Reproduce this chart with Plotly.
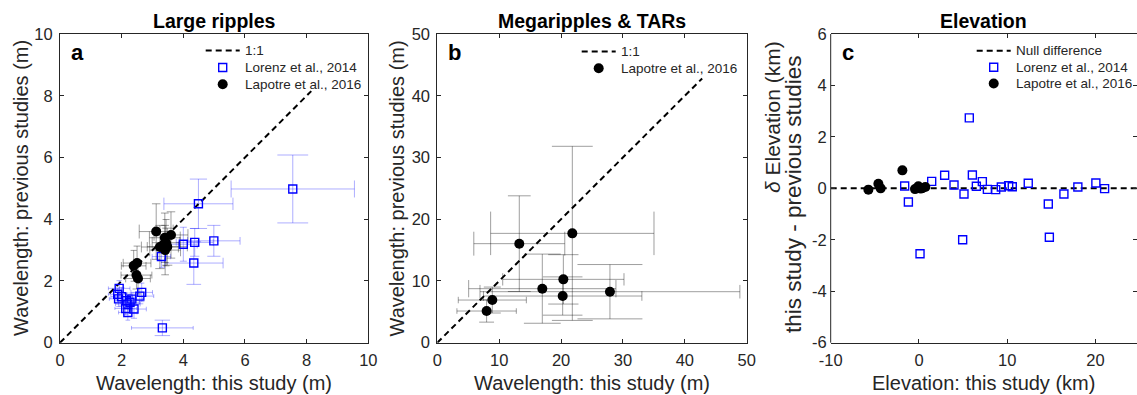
import plotly.graph_objects as go

# ---------------- data ----------------
# Panel a: large ripples, wavelength (m)
lor_a_x = [7.55, 4.49, 4.99, 4.37, 4.00, 4.34, 3.29, 3.32, 1.92, 1.87, 1.90, 2.00,
           2.15, 2.20, 2.13, 2.20, 2.40, 2.33, 2.59, 2.65, 2.27]
lor_a_y = [4.98, 4.50, 3.30, 3.25, 3.19, 2.58, 2.79, 0.48, 1.76, 1.57, 1.42, 1.49,
           1.36, 1.25, 1.11, 0.98, 1.09, 1.41, 1.51, 1.63, 1.31]
lor_a_xerr = [2.00, 1.12, 0.85, 0.60, 0.45, 0.95, 0.30, 1.00, 0.35, 0.30, 0.30, 0.35,
              0.30, 0.40, 0.35, 0.30, 0.40, 0.35, 0.45, 0.35, 0.30]
lor_a_yerr = [1.10, 0.80, 0.50, 0.45, 0.55, 0.69, 0.35, 0.25, 0.25, 0.20, 0.25, 0.30,
              0.25, 0.30, 0.20, 0.25, 0.30, 0.20, 0.25, 0.30, 0.25]

lap_a_x = [3.12, 3.24, 3.40, 3.44, 3.60, 3.41, 3.48, 2.39, 2.50, 2.48, 2.53]
lap_a_y = [3.60, 3.10, 3.40, 3.24, 3.49, 3.00, 3.11, 2.49, 2.58, 2.19, 2.08]
lap_a_xerr = [0.55, 0.60, 0.50, 0.45, 0.55, 0.50, 0.65, 0.40, 0.45, 0.50, 0.40]
lap_a_yerr = [0.90, 0.70, 0.80, 0.75, 0.75, 0.80, 0.60, 0.50, 0.55, 0.45, 0.50]

# Panel b: megaripples & TARs, wavelength (m)
lap_b_x = [7.97, 8.89, 13.25, 21.82, 16.97, 20.37, 20.26, 27.90]
lap_b_y = [5.13, 6.91, 16.04, 17.71, 8.75, 10.26, 7.56, 8.26]
lap_b_xerr = [4.8, 5.5, 7.35, 13.2, 11.9, 9.8, 12.8, 21.0]
lap_b_yerr = [1.8, 2.1, 7.75, 14.1, 5.6, 4.0, 3.1, 4.4]

# Panel c: elevation (km) and elevation difference (km)
lor_c_x = [-1.62, -1.20, 0.12, 1.44, 2.91, 3.97, 5.10, 4.95, 5.70, 6.05, 6.50, 7.18,
           7.75, 8.69, 9.33, 10.16, 10.57, 12.38, 14.65, 14.77, 16.42, 18.00, 20.04, 21.03]
lor_c_y = [0.09, -0.53, -2.54, 0.27, 0.51, 0.13, -0.22, -2.00, 2.74, 0.52, 0.08, 0.26,
           -0.04, -0.05, 0.05, 0.10, 0.06, 0.20, -0.61, -1.90, -0.22, 0.05, 0.21, -0.01]
lap_c_x = [-5.73, -4.60, -4.34, -1.88, -0.45, -0.07, 0.38, 0.72, 0.20]
lap_c_y = [-0.05, 0.18, 0.00, 0.70, -0.03, 0.08, 0.01, 0.05, -0.01]

# reference lines (the 1:1 lines stop where the legend box begins)
one_to_one_a = [0, 8.15]
one_to_one_b = [0, 42.8]
null_x = [-10, 25]
null_y = [0, 0]

range_a = [0, 10]
range_b = [0, 50]
range_cx = [-10, 24.7]
range_cy = [-6, 6]

# tick labels for panel c (plain hyphen for negatives)
c_xticks = [-10, 0, 10, 20]
c_xlabels = ["-10", "0", "10", "20"]
c_yticks = [-6, -4, -2, 0, 2, 4, 6]
c_ylabels = ["-6", "-4", "-2", "0", "2", "4", "6"]

# ---------------- style ----------------
W, H = 1137, 395
FONT = "Liberation Sans, Arial, Helvetica, sans-serif"
AXC = "#262626"
BLUE = "#0000ff"
BLUE_ERR = "rgba(0,0,255,0.32)"
GRAY_ERR = "rgba(0,0,0,0.38)"
DASH = "6px,4px"

# axes boxes in pixels (left, right) and shared vertical extent
BOX_A = (60.0, 368.3)
BOX_B = (437.3, 746.7)
BOX_C = (830.7, 1137.0)
Y_BOT, Y_TOP = 342.7, 34.0
ydom = [(H - Y_BOT) / H, (H - Y_TOP) / H]
PY = Y_BOT - Y_TOP


def dom(box):
    return [box[0] / W, min(box[1] / W, 1.0)]


def px_per_unit(box, rng):
    return (box[1] - box[0]) / (rng[1] - rng[0])


fig = go.Figure()


def add_errorbars(xs, ys, exs, eys, color, box, rng, xa, ya):
    # caps span half of the perpendicular error, as in the original plotting routine
    sx = px_per_unit(box, rng)
    sy = PY / (rng[1] - rng[0])
    for x, y, ex, ey in zip(xs, ys, exs, eys):
        fig.add_trace(go.Scatter(
            x=[x], y=[y], mode="markers", xaxis=xa, yaxis=ya,
            marker=dict(size=2, opacity=0),
            error_x=dict(type="data", array=[ex], color=color, thickness=1,
                         width=ey / 4 * sy),
            error_y=dict(type="data", array=[ey], color=color, thickness=1,
                         width=ex / 4 * sx),
            showlegend=False, hoverinfo="skip"))


sq = dict(symbol="square-open", size=8, color=BLUE, line=dict(width=1.4, color=BLUE))
dot = dict(symbol="circle", size=10, color="black", line=dict(width=0))
dash_line = dict(color="black", width=2, dash=DASH)

# ---- panel a ----
add_errorbars(lor_a_x, lor_a_y, lor_a_xerr, lor_a_yerr, BLUE_ERR, BOX_A, range_a, "x", "y")
add_errorbars(lap_a_x, lap_a_y, lap_a_xerr, lap_a_yerr, GRAY_ERR, BOX_A, range_a, "x", "y")
fig.add_trace(go.Scatter(x=one_to_one_a, y=one_to_one_a, mode="lines", xaxis="x", yaxis="y",
                         line=dash_line, showlegend=False))
fig.add_trace(go.Scatter(x=lor_a_x, y=lor_a_y, mode="markers", xaxis="x", yaxis="y",
                         marker=sq, showlegend=False))
fig.add_trace(go.Scatter(x=lap_a_x, y=lap_a_y, mode="markers", xaxis="x", yaxis="y",
                         marker=dot, showlegend=False))

# ---- panel b ----
add_errorbars(lap_b_x, lap_b_y, lap_b_xerr, lap_b_yerr, GRAY_ERR, BOX_B, range_b, "x2", "y2")
fig.add_trace(go.Scatter(x=one_to_one_b, y=one_to_one_b, mode="lines", xaxis="x2", yaxis="y2",
                         line=dash_line, showlegend=False))
fig.add_trace(go.Scatter(x=lap_b_x, y=lap_b_y, mode="markers", xaxis="x2", yaxis="y2",
                         marker=dot, showlegend=False))

# ---- panel c ----
fig.add_trace(go.Scatter(x=null_x, y=null_y, mode="lines", xaxis="x3", yaxis="y3",
                         line=dash_line, showlegend=False))
fig.add_trace(go.Scatter(x=lor_c_x, y=lor_c_y, mode="markers", xaxis="x3", yaxis="y3",
                         marker=sq, showlegend=False))
fig.add_trace(go.Scatter(x=lap_c_x, y=lap_c_y, mode="markers", xaxis="x3", yaxis="y3",
                         marker=dot, showlegend=False))

# ---- legends: drawn on a full-page overlay axis measured in pixels ----
legfont = dict(family=FONT, size=13.5, color=AXC)
ann = []


def add_legend(left, rows):
    # rows: list of (kind, label, y) ; kind in {"line", "square", "dot"}
    for kind, label, y in rows:
        if kind == "line":
            fig.add_trace(go.Scatter(x=[left, left + 34], y=[y, y], mode="lines",
                                     xaxis="x4", yaxis="y4", line=dash_line,
                                     showlegend=False, hoverinfo="skip"))
        else:
            fig.add_trace(go.Scatter(x=[left + 17], y=[y], mode="markers",
                                     xaxis="x4", yaxis="y4",
                                     marker=sq if kind == "square" else dot,
                                     showlegend=False, hoverinfo="skip"))
        ann.append(dict(text=label, xref="paper", yref="paper", x=(left + 37) / W,
                        y=(H - y) / H, xanchor="left", yanchor="middle",
                        showarrow=False, font=legfont))


add_legend(205.7, [("line", "1:1", 50.5), ("square", "Lorenz et al., 2014", 67.5),
                   ("dot", "Lapotre et al., 2016", 84.3)])
add_legend(581.7, [("line", "1:1", 51.5), ("dot", "Lapotre et al., 2016", 68.3)])
add_legend(976.7, [("line", "Null difference", 50.7), ("square", "Lorenz et al., 2014", 67.3),
                   ("dot", "Lapotre et al., 2016", 83.5)])

tickfont = dict(family=FONT, size=16.5, color=AXC)


def axis(domain, rng, dtick, anchor, standoff, mirror="allticks", showline=True,
         tickvals=None, ticktext=None):
    ax = dict(domain=domain, range=rng, dtick=dtick, tick0=0, anchor=anchor,
              showline=showline, linecolor=AXC, linewidth=1, mirror=mirror,
              ticks="inside", ticklen=4, tickcolor=AXC, tickwidth=1,
              ticklabelstandoff=standoff, automargin=False,
              showgrid=False, zeroline=False, tickfont=tickfont, fixedrange=True)
    if tickvals is not None:
        ax.update(tickmode="array", tickvals=tickvals, ticktext=ticktext)
    return ax


fig.update_layout(
    template="none",
    width=W, height=H, margin=dict(l=0, r=0, t=0, b=0, pad=0),
    paper_bgcolor="white", plot_bgcolor="rgba(0,0,0,0)",
    font=dict(family=FONT, color=AXC),
    showlegend=False,
    xaxis=axis(dom(BOX_A), range_a, 2, "y", 2),
    yaxis=axis(ydom, range_a, 2, "x", 3),
    xaxis2=axis(dom(BOX_B), range_b, 10, "y2", 2),
    yaxis2=axis(ydom, range_b, 10, "x2", 3),
    xaxis3=axis(dom(BOX_C), range_cx, 10, "y3", 2, tickvals=c_xticks, ticktext=c_xlabels),
    yaxis3=axis(ydom, range_cy, 2, "x3", 3, mirror="ticks", showline=False,
                tickvals=c_yticks, ticktext=c_ylabels),
    xaxis4=dict(domain=[0, 1], range=[0, W], visible=False, anchor="y4", fixedrange=True),
    yaxis4=dict(domain=[0, 1], range=[H, 0], visible=False, anchor="x4", fixedrange=True),
)

# left spine of panel c (its right side lies past the page edge)
fig.add_shape(type="line", xref="x3 domain", yref="y3 domain", x0=0, x1=0, y0=0, y1=1,
              line=dict(color=AXC, width=1))

title_font = dict(family=FONT, size=19.5, color="black")
lab_font = dict(family=FONT, size=20, color=AXC)
letter_font = dict(family=FONT, size=22, color="black")

for xr, t in [("x domain", "Large ripples"), ("x2 domain", "Megaripples &amp; TARs"),
              ("x3 domain", "Elevation")]:
    ann.append(dict(text=f"<b>{t}</b>", xref=xr, yref="paper", x=0.5, y=(H - 21) / H,
                    xanchor="center", yanchor="middle", showarrow=False, font=title_font))

for xr, yr, t in [("x domain", "y domain", "a"), ("x2 domain", "y2 domain", "b"),
                  ("x3 domain", "y3 domain", "c")]:
    ann.append(dict(text=f"<b>{t}</b>", xref=xr, yref=yr, x=0.057, y=0.94,
                    xanchor="center", yanchor="middle", showarrow=False, font=letter_font))

for xr, t in [("x domain", "Wavelength: this study (m)"),
              ("x2 domain", "Wavelength: this study (m)"),
              ("x3 domain", "Elevation: this study (km)")]:
    ann.append(dict(text=t, xref=xr, yref="paper", x=0.5, y=(H - 383) / H,
                    xanchor="center", yanchor="middle", showarrow=False, font=lab_font))

for xpx in (21.5, 397):
    ann.append(dict(text="Wavelength: previous studies (m)", xref="paper", yref="paper",
                    x=xpx / W, y=(H - 188.4) / H, xanchor="center", yanchor="middle",
                    textangle=-90, showarrow=False, font=lab_font))

ann.append(dict(text="<i>δ</i> Elevation (km)", xref="paper", yref="paper",
                x=772 / W, y=(H - 117) / H, xanchor="center", yanchor="middle",
                textangle=-90, showarrow=False, font=dict(family=FONT, size=21, color=AXC)))
ann.append(dict(text="this study - previous studies", xref="paper", yref="paper",
                x=794 / W, y=(H - 194) / H, xanchor="center", yanchor="middle",
                textangle=-90, showarrow=False, font=dict(family=FONT, size=22.5, color=AXC)))

fig.update_layout(annotations=ann)

fig.write_html("out.html")
